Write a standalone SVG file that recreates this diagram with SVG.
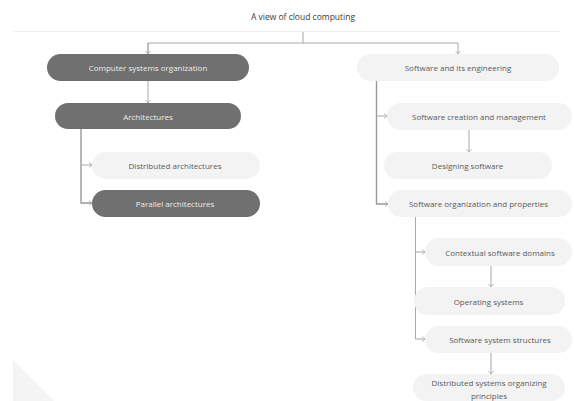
<svg xmlns="http://www.w3.org/2000/svg" width="574" height="401" viewBox="0 0 574 401">
<defs>
<style>
text{font-family:"Open Sans","Noto Sans","Liberation Sans",sans-serif;font-size:8px;text-anchor:middle;dominant-baseline:central}
.dark rect{fill:#707070}
.dark text{fill:#ececec}
.light rect{fill:#f3f3f3}
.light text{fill:#5a5a5a}
.ln{fill:none;stroke:#a8a8a8;stroke-width:1}
.lnd{fill:none;stroke:#999;stroke-width:1.4}
.ttl{font-size:8.5px;fill:#3a3a3a}
</style>
<marker id="ah" viewBox="0 0 8 8" refX="7" refY="4" markerWidth="8" markerHeight="8" markerUnits="userSpaceOnUse" orient="auto">
<polyline points="4,1.5 7,4 4,6.5" fill="none" stroke="#a8a8a8" stroke-width="0.8"/>
</marker>
</defs>
<rect width="574" height="401" fill="#ffffff"/>
<polygon points="13,360 13,401 54,401" fill="#f4f4f4"/>
<text class="ttl" x="303" y="16">A view of cloud computing</text>
<line x1="13" y1="31.5" x2="560" y2="31.5" stroke="#efefef" stroke-width="1"/>
<g id="connectors">
<polyline class="ln" points="303,32 303,43"/>
<polyline class="ln" points="148,54 148,43 458,43 458,54" marker-end="url(#ah)"/>
<polyline class="ln" points="148,43 148,54" marker-end="url(#ah)"/>
<polyline class="ln" points="148,81 148,103" marker-end="url(#ah)"/>
<polyline class="lnd" points="81,129 81,203 92,203" marker-end="url(#ah)"/>
<polyline class="ln" points="81,165 92,165" marker-end="url(#ah)"/>
<polyline class="lnd" points="376.5,81 376.5,204 388,204" marker-end="url(#ah)"/>
<polyline class="ln" points="376.5,116 387,116" marker-end="url(#ah)"/>
<polyline class="ln" points="469,130 469,152" marker-end="url(#ah)"/>
<polyline class="ln" points="415.5,217 415.5,339 425,339" marker-end="url(#ah)"/>
<polyline class="ln" points="415.5,252 425,252" marker-end="url(#ah)"/>
<polyline class="ln" points="491,266 491,287" marker-end="url(#ah)"/>
<polyline class="ln" points="491,353 491,374" marker-end="url(#ah)"/>
</g>
<g id="cso" class="dark"><rect x="47" y="54" width="202" height="27" rx="13.5"/><text x="148" y="67.5">Computer systems organization</text></g>
<g id="arch" class="dark"><rect x="55" y="103" width="186" height="26" rx="13"/><text x="148" y="116">Architectures</text></g>
<g id="dist_arch" class="light"><rect x="92" y="152" width="168" height="27" rx="13.5"/><text x="175" y="165.5">Distributed architectures</text></g>
<g id="par_arch" class="dark"><rect x="92" y="190" width="168" height="27" rx="13.5"/><text x="175" y="203.5">Parallel architectures</text></g>
<g id="sae" class="light"><rect x="357" y="54" width="202" height="27" rx="13.5"/><text x="458" y="67.5">Software and its engineering</text></g>
<g id="scm" class="light"><rect x="387" y="103" width="185" height="27" rx="13.5"/><text x="479" y="116.5">Software creation and management</text></g>
<g id="design" class="light"><rect x="384" y="152" width="168" height="27" rx="13.5"/><text x="467.5" y="165.5">Designing software</text></g>
<g id="sop" class="light"><rect x="388" y="190" width="184" height="27" rx="13.5"/><text x="478.5" y="203.5">Software organization and properties</text></g>
<g id="ctx" class="light"><rect x="425" y="238" width="147" height="28" rx="14"/><text x="500" y="252">Contextual software domains</text></g>
<g id="os" class="light"><rect x="414" y="287" width="151" height="28" rx="14"/><text x="488.5" y="301">Operating systems</text></g>
<g id="sss" class="light"><rect x="425" y="326" width="147" height="27" rx="13.5"/><text x="500" y="339.5">Software system structures</text></g>
<g id="dsop" class="light"><rect x="413" y="374" width="152" height="27" rx="13.5"/><text x="489" y="382">Distributed systems organizing</text><text x="489" y="395">principles</text></g>
</svg>
